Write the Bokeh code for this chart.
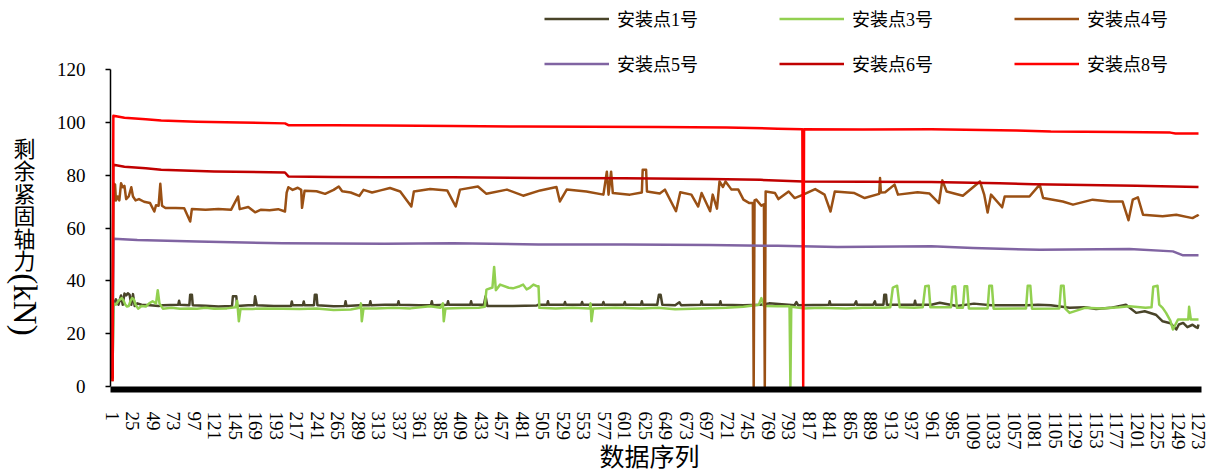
import math
from bokeh.plotting import figure
from bokeh.models import Range1d, FixedTicker, Legend, LegendItem, Label
from bokeh.embed import file_html
from bokeh.resources import INLINE

# ---------------- data ----------------
series_names = ["安装点1号", "安装点3号", "安装点4号", "安装点5号", "安装点6号", "安装点8号"]
series_colors = ["#494429", "#92D050", "#9A5014", "#8064A2", "#C00000", "#FF0000"]

x_ticks = list(range(1, 1274, 24))
y_ticks = [0, 20, 40, 60, 80, 100, 120]

y_title_cjk = "剩余紧固轴力"
y_title_unit = "(kN)"
x_title = "数据序列"

# (sequence index, residual axial force kN)
s1_points = [(1,3),(2,31),(5,33),(8,31),(11,34.5),(13,31),(15,35.2),(17,34.5),(19,35.3),(21,34.8),(23,31),(25,35),(27,30.5),
 (30,31.5),(35,31),(45,30.8),(55,30.5),(60,30.8),(78,31),(79,32.5),(80,31),(91,30.8),(92,34.8),(94,34.8),(95,30.8),(110,30.6),
 (125,30.3),(141,30.5),(142,34.2),(146,34.2),(147,30.5),(160,30.8),(167,30.8),(168,34.2),(170,30.8),(190,30.5),(210,30.5),
 (211,32.2),(212,30.8),(224,30.8),(225,32.2),(226,30.8),(237,30.8),(238,34.8),(240,34.8),(241,30.8),(260,30.4),(273,30.5),
 (274,32.3),(275,30.5),(290,30.8),(302,30.8),(303,32.3),(304,30.8),(320,31),(335,31),(336,32.3),(337,31),(360,30.8),(374,30.8),
 (375,32.3),(376,30.8),(393,31.0),(394,32.3),(395,31.0),(410,31),(420,31),(421,32.3),(422,31),(436,31),(438,34.2),(440,30.5),
 (470,30.5),(498,30.7),(500,31),(510,31),(511,32.3),(512,31),(530,31),(531,32),(532,31),(550,31),(551,32),(552,31),(575,31),
 (576,32),(577,31),(600,31),(601,32),(602,31),(620,31),(621,32.3),(622,31),(639,31),(641,34.8),(643,34.8),(645,31),(660,30.8),
 (665,31.9),(667,30.8),(690,31),(691,32.3),(692,31),(712,31),(713,32.3),(714,31),(740,30.8),(760,31),(770,31.5),(800,30.8),
 (802,32),(804,30.8),(840,31),(841,32.3),(842,31),(870,31),(872,32.3),(873,31),(892,31),(894,32.3),(895,31),(904,31),(905,34.8),
 (907,34.8),(908,31),(940,31),(941,32.5),(942,31),(960,31),(970,31.7),(990,30.5),(1010,31.4),(1030,30.8),(1050,30.8),(1073,30.8),
 (1085,31),(1100,30.8),(1122,29.8),(1140,30),(1153,29.4),(1170,29.8),(1188,31),(1200,27.9),(1210,28.5),(1223,27.2),(1231,24.7),
 (1240,24),(1247,21.6),(1250,23.5),(1255,24.1),(1260,22.5),(1266,23.4),(1270,22.5),(1272,22.2),(1273,23.5)]

s3_points = [(1,4),(2,31.5),(5,31),(8,32.5),(12,33.5),(14,32.5),(16,31),(18,30.3),(20,30.5),(22,32.3),(24,33.5),(26,33),(28,31),
 (31,29.5),(35,30.5),(40,30.3),(44,31.5),(48,32.3),(52,31.5),(54,36.5),(56,31.5),(60,29.5),(70,29.8),(80,29.5),(90,29.6),
 (100,29.5),(110,29.8),(120,29.5),(135,29.6),(145,30),(147,32.5),(149,24.7),(151,29.5),(165,29.4),(180,29.6),(200,29.5),
 (220,29.4),(240,29.6),(260,29.0),(280,29.2),(291,29.8),(292,31.5),(293,24.7),(295,29.6),(310,29.6),(330,29.8),(350,29.6),
 (373,30.4),(385,29.8),(388,31.5),(389,24.7),(391,29.6),(410,29.7),(430,29.8),(437,30.2),(439,36.7),(446,37.5),(448,45.3),
 (450,36.5),(455,38.6),(465,37.4),(470,37.2),(478,38),(482,38.6),(486,36.8),(490,37.5),(494,38.6),(498,38.0),(500,38.0),
 (501,29.8),(520,29.6),(540,29.8),(560,29.6),(561,31.5),(562,24.7),(564,29.6),(590,29.8),(620,29.6),(640,29.8),(660,29.3),
 (690,29.6),(720,29.8),(740,30.2),(758,31),(761,33.5),(764,30.5),(780,30.4),(794,30.4),(795,0),(796,30.2),(810,29.6),(830,29.8),
 (860,29.6),(880,29.8),(905,29.8),(912,30),(915,37.5),(920,38.2),(923,30),(940,29.8),(950,30),(953,38),(957,38.2),(959,30),
 (983,30),(985,37.8),(988,38),(990,29.8),(997,29.8),(999,38),(1002,38),(1004,29.6),(1026,29.6),(1028,38.2),(1031,38.2),
 (1033,29.5),(1071,29.6),(1073,38.2),(1076,38.2),(1078,29.5),(1110,29.6),(1112,38.2),(1115,38.2),(1117,29.5),(1122,27.9),
 (1140,29.8),(1160,29.6),(1180,30),(1192,30.4),(1211,29.8),(1218,30),(1220,37.8),(1225,38.2),(1227,31),(1231,29.8),(1235,27.9),
 (1240,25),(1243,21.6),(1249,25.4),(1255,25.4),(1261,25.4),(1262,30.2),(1264,25.4),(1273,25.4)]

s4_points = [(1,2),(2,77),(3,70.5),(4,76.5),(5,70.5),(7,72),(9,70.5),(11,77),(13,75.5),(15,76),(17,71),(20,72),(23,75.5),(25,72),
 (28,70.5),(32,71),(38,70),(45,69.5),(50,66.3),(52,68.7),(55,68.5),(57,76.8),(59,68.5),(63,67.6),(75,67.6),(85,67.5),(92,62.5),
 (94,67.3),(110,67.0),(125,67.3),(140,67.0),(148,72.0),(150,67.2),(160,68.0),(168,66.0),(175,67.0),(185,66.8),(195,67.2),
 (203,66.3),(205,73.5),(207,75.5),(212,74.5),(218,75.3),(222,74.5),(223,67.7),(226,74.2),(240,74.0),(250,73.0),(260,74.5),
 (266,75.8),(270,74.0),(280,73.5),(290,72.2),(295,74.5),(305,73.5),(315,74.3),(326,75.2),(338,73.9),(351,68.2),(354,73.9),
 (373,74.8),(393,74.3),(403,68.2),(408,74.6),(429,75.8),(439,73.0),(463,74.6),(482,72.3),(502,74.3),(521,75.6),(525,70.1),
 (533,74.6),(556,73.9),(576,72.7),(580,81.4),(582,72.7),(585,81.4),(587,73.3),(607,72.7),(621,73.5),(622,82.1),(626,82.1),
 (627,73.9),(642,73.1),(648,74.6),(661,66.4),(666,73.6),(679,72.7),(687,68.2),(691,73.3),(701,66.4),(704,72.7),(709,67.4),
 (712,77.7),(716,75.6),(719,77.7),(726,74.6),(734,74.6),(740,70.8),(747,69.5),(751,69.5),(752,0),(753,70.5),(755,70.8),
 (761,68.5),(764,69),(765,0),(766,73.9),(777,73.3),(781,71.0),(793,73.9),(800,71.4),(810,72.7),(824,74.8),(835,72.7),(842,66.3),
 (847,73.9),(870,73.3),(882,71.4),(899,73),(900,79.0),(901,73.5),(906,73.6),(917,76.5),(921,72.7),(944,73.6),(958,73.1),
 (969,69.5),(973,78.1),(978,73.9),(997,72.3),(1017,77.7),(1022,72.7),(1026,65.9),(1030,72.7),(1043,67.9),(1046,72.0),
 (1075,72.0),(1087,76.5),(1091,71.4),(1114,70.1),(1126,68.9),(1149,70.8),(1169,70.1),(1184,70.1),(1191,63.0),(1196,70.8),
 (1202,71.7),(1208,65.1),(1231,64.5),(1247,65.1),(1266,63.8),(1272,64.9),(1273,64.5)]

s5_points = [(1,5.8),(2,56.0),(30,55.5),(100,54.9),(200,54.3),(320,54.1),(400,54.3),(500,53.8),(600,53.8),(700,53.6),(780,53.3),
 (850,52.9),(960,53.1),(1009,52.5),(1087,51.8),(1192,52.1),(1243,51.2),(1255,49.7),(1273,49.7)]

s6_points = [(1,3),(2,84.0),(15,83.3),(40,82.7),(58,82.1),(120,81.5),(203,81.1),(207,79.6),(260,79.4),(320,79.3),(400,79.3),
 (500,79.0),(600,78.9),(700,78.6),(760,78.3),(810,77.7),(880,77.6),(960,77.5),(1040,77.0),(1080,76.6),(1120,76.4),(1200,76.1),
 (1273,75.6)]

s8_points = [(1,2),(2,102.6),(15,101.8),(40,101.3),(58,100.8),(100,100.3),(150,100.0),(203,99.7),(207,99.0),(260,99.0),
 (320,98.9),(400,98.7),(480,98.5),(560,98.4),(640,98.3),(720,98.1),(780,97.7),(809,97.5),(810,0),(811,97.5),(880,97.4),
 (960,97.5),(1020,97.2),(1060,97.0),(1100,96.6),(1180,96.4),(1240,96.2),(1246,95.9),(1273,95.9)]

all_points = [s1_points, s3_points, s4_points, s5_points, s6_points, s8_points]

# ---------------- layout constants (pixels on the canvas) ----------------
W, H = 1211, 473
PX_PER_IDX = 1086 / 1272          # index 1 -> px 112, index 1273 -> px 1198
PX_PER_KN = 316.7 / 120           # 0 -> px 386, 120 -> px 69.3
X0_PX, Y0_PX = 112, 386

x_start = 1 - X0_PX / PX_PER_IDX
x_end = 1 + (W - X0_PX) / PX_PER_IDX
y_start = -(H - Y0_PX) / PX_PER_KN
y_end = (Y0_PX) / PX_PER_KN

plot_left = 1 - 2 / PX_PER_IDX
plot_right = 1273 + 3 / PX_PER_IDX

FONT_LATIN = "Liberation Serif"
FONT_MIX = "Liberation Serif, Noto Sans CJK SC"
FONT_CJK = "Noto Sans CJK SC"

p = figure(width=W, height=H, output_backend="svg", toolbar_location=None,
           x_range=Range1d(x_start, x_end), y_range=Range1d(y_start, y_end),
           min_border=0, min_border_left=0, min_border_right=0, min_border_top=0, min_border_bottom=0)
p.outline_line_color = None
p.grid.visible = False
p.background_fill_color = "white"
p.border_fill_color = "white"

renderers = []
for pts, color in zip(all_points, series_colors):
    xs = [a for a, b in pts]
    ys = [b for a, b in pts]
    r = p.line(xs, ys, line_color=color, line_width=2.5, line_join="round")
    renderers.append(r)

# y axis (fixed inside the frame)
yax = p.yaxis[0]
yax.fixed_location = plot_left
yax.bounds = (0, 120)
yax.ticker = FixedTicker(ticks=y_ticks)
yax.axis_line_color = "black"
yax.axis_line_width = 1.5
yax.major_tick_line_color = "black"
yax.major_tick_line_width = 1.5
yax.major_tick_out = 5
yax.major_tick_in = 0
yax.minor_tick_line_color = None
yax.major_label_standoff = 20
yax.major_label_text_font = FONT_LATIN
yax.major_label_text_font_size = "19px"
yax.major_label_text_color = "black"

# x axis (fixed at the bottom of the plot area)
xax = p.xaxis[0]
xax.fixed_location = -3 / PX_PER_KN
xax.bounds = (plot_left, plot_right)
xax.ticker = FixedTicker(ticks=x_ticks)
xax.axis_line_color = "black"
xax.axis_line_width = 6
xax.major_tick_out = 0
xax.major_tick_in = 0
xax.major_tick_line_color = None
xax.minor_tick_line_color = None
xax.major_label_orientation = "vertical"
xax.major_label_standoff = 22
xax.major_label_text_font = FONT_LATIN
xax.major_label_text_font_size = "19px"
xax.major_label_text_color = "black"

# legend (2 rows x 3 columns)
items = [LegendItem(label=n, renderers=[r]) for n, r in zip(series_names, renderers)]
legend = Legend(items=items, location=(544, H - 85.8), orientation="horizontal", ncols=3,
                glyph_width=65, glyph_height=45, label_height=45, label_width=162,
                label_standoff=8, spacing=0, padding=0, margin=0,
                border_line_alpha=0, background_fill_alpha=0,
                label_text_font=FONT_MIX, label_text_font_size="18px", label_text_color="black")
p.add_layout(legend)

# y title: stacked CJK characters plus rotated unit
for k, ch in enumerate(y_title_cjk):
    p.add_layout(Label(x=24, y=H - (146 + 22.5 * k), x_units="screen", y_units="screen",
                       text=ch, text_align="center", text_baseline="middle",
                       text_font=FONT_CJK, text_font_size="22px", text_color="black"))
p.add_layout(Label(x=24, y=H - 304, x_units="screen", y_units="screen", text=y_title_unit,
                   angle=-math.pi / 2, text_align="center", text_baseline="middle",
                   text_font=FONT_LATIN, text_font_size="33px", text_color="black"))

# x title
p.add_layout(Label(x=649, y=H - 454, x_units="screen", y_units="screen", text=x_title,
                   text_align="center", text_baseline="middle",
                   text_font=FONT_CJK, text_font_size="25px", text_color="black"))

open("out.html", "w").write(file_html(p, INLINE))
